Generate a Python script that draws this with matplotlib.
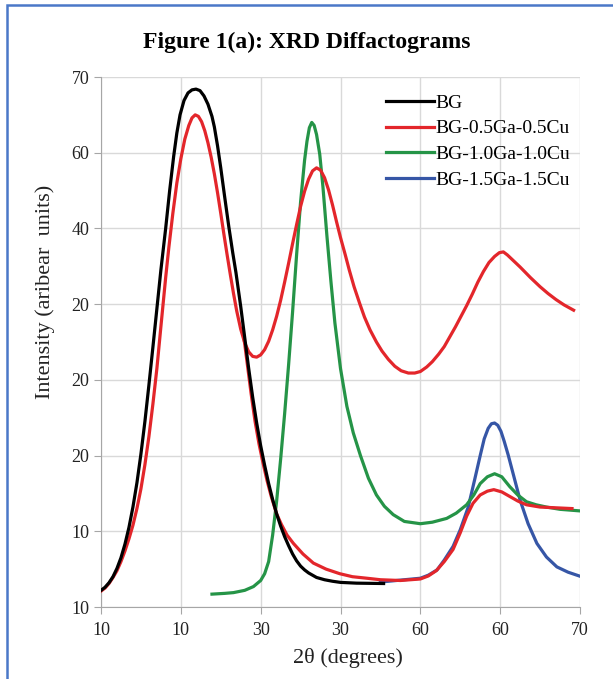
import numpy as np
import matplotlib
matplotlib.use("Agg")
import matplotlib.pyplot as plt
from matplotlib.patches import Rectangle

# values (x = 2theta in degrees, y = intensity)
bg_x = [10, 10.5, 11, 11.5, 12, 12.5, 13, 13.5, 14, 14.5, 15, 15.5, 16, 16.5, 17, 17.5,
        18.1, 18.6, 19.1, 19.5, 19.9, 20.4, 20.9, 21.4, 21.9, 22.4, 22.9, 23.4, 23.9, 24.2,
        24.6, 25.0, 25.5, 26.0, 26.5, 26.9, 27.5, 28.0, 28.5, 29.0, 29.5, 30.0, 30.5, 31.0,
        31.5, 32.0, 32.5, 33.0, 33.5, 34.0, 34.5, 35.0, 35.5, 36.0, 36.5, 37.0, 38.0, 39.0,
        40.0, 42.0, 45.4]
bg_y = [2.2, 2.6, 3.2, 4.0, 5.1, 6.5, 8.3, 10.5, 13.2, 16.4, 20.2, 24.5, 29.3, 34.3, 39.4, 44.5,
        50.0, 55.0, 59.5, 62.6, 65.0, 66.9, 67.9, 68.3, 68.4, 68.2, 67.5, 66.4, 64.8, 63.4,
        60.9, 58.0, 54.1, 50.3, 46.8, 44.2, 39.7, 35.6, 31.5, 27.7, 24.3, 21.3, 18.7, 16.3,
        14.2, 12.3, 10.7, 9.3, 8.1, 7.0, 6.1, 5.4, 4.9, 4.5, 4.2, 3.9, 3.6, 3.4,
        3.25, 3.15, 3.1]

red_x = [10, 10.5, 11, 11.5, 12, 12.5, 13, 13.5, 14, 14.5, 15, 15.5, 16, 16.5, 17, 17.5,
         18.1, 18.5, 19.0, 19.5, 20.0, 20.5, 21.0, 21.4, 21.8, 22.2, 22.6, 23.0, 23.4, 23.8,
         24.2, 24.6, 25.0, 25.4, 25.8, 26.2, 26.6, 27.0, 27.5, 28.0, 28.5, 29.0, 29.5, 30.0,
         30.5, 31.0, 31.5, 32.0, 32.5, 33.0, 33.5, 34.0, 34.5, 35.0, 35.5, 36.0, 36.5, 37.0,
         37.5, 38.0, 38.5, 39.0, 39.5, 40.0, 40.6, 41.1, 41.7, 42.4, 43.0, 43.7, 44.5, 45.2,
         46.0, 46.8, 47.6, 48.5, 49.3, 50.0, 50.8, 51.5, 52.3, 53.0, 53.7, 54.4, 55.1, 55.8,
         56.5, 57.2, 57.9, 58.6, 59.3, 59.9, 60.4, 60.9, 61.5, 62.5, 63.8, 65.0, 66.0, 67.0,
         68.0, 69.2]
red_y = [2.1, 2.5, 3.1, 3.9, 4.8, 6.0, 7.4, 9.0, 10.8, 13.0, 15.6, 18.8, 22.5, 26.8, 31.5, 37.0,
         43.5, 47.5, 52.0, 56.0, 59.2, 61.8, 63.6, 64.6, 65.0, 64.8, 64.1, 62.9, 61.3, 59.4,
         57.2, 54.7, 52.0, 49.2, 46.5, 43.9, 41.4, 39.1, 36.7, 34.9, 33.7, 33.1, 33.0, 33.3,
         34.0, 35.1, 36.6, 38.4, 40.5, 42.9, 45.4, 48.0, 50.5, 52.9, 54.9, 56.5, 57.6, 58.0,
         57.7, 56.7, 55.1, 53.1, 50.9, 48.8, 46.5, 44.5, 42.3, 40.1, 38.3, 36.6, 35.0, 33.8,
         32.7, 31.8, 31.2, 30.9, 30.9, 31.1, 31.7, 32.4, 33.4, 34.4, 35.7, 37.0, 38.4, 39.8,
         41.3, 42.9, 44.3, 45.5, 46.3, 46.8, 46.9, 46.5, 45.9, 44.9, 43.5, 42.3, 41.4, 40.6,
         39.9, 39.2]

# second red trace (lower branch, follows BG then small peak near 59)
red2_x = [27.8, 28.3, 28.8, 29.3, 29.8, 30.3, 30.8, 31.3, 32.0, 32.6, 33.3, 34.1, 35.3, 36.6,
          38.2, 39.9, 41.5, 43.3, 45.0, 47.5, 50.0, 51.0, 52.0, 53.0, 54.1, 55.0, 55.8, 56.6,
          57.5, 58.4, 59.2, 60.2, 61.2, 62.2, 63.3, 65.0, 67.0, 69.0]
red2_y = [36.4, 32.3, 28.2, 24.5, 21.5, 19.0, 16.7, 14.7, 12.3, 10.9, 9.5, 8.4, 7.0, 5.8,
          5.0, 4.4, 4.0, 3.8, 3.6, 3.5, 3.7, 4.1, 4.8, 6.0, 7.6, 9.8, 12.0, 13.7,
          14.8, 15.3, 15.5, 15.2, 14.6, 14.0, 13.5, 13.2, 13.1, 13.0]

green_x = [23.9, 25.5, 26.6, 28.0, 29.1, 30.0, 30.5, 31.0, 31.5, 32.0, 32.5, 33.0, 33.5, 34.0,
           34.5, 35.0, 35.5, 35.8, 36.1, 36.4, 36.7, 37.0, 37.4, 37.8, 38.3, 38.8, 39.3, 40.0,
           40.8, 41.6, 42.5, 43.5, 44.5, 45.5, 46.6, 48.0, 50.0, 51.5, 53.3, 54.5, 55.8, 56.7,
           57.5, 58.4, 59.3, 60.2, 61.2, 62.2, 63.3, 64.5, 65.8, 67.5, 69.9]
green_y = [1.7, 1.8, 1.9, 2.2, 2.7, 3.5, 4.4, 6.0, 9.5, 14.0, 19.5, 25.5, 32.0, 39.0,
           46.5, 53.5, 59.0, 61.5, 63.3, 64.0, 63.6, 62.4, 59.8, 55.5, 49.0, 43.0, 37.5, 31.5,
           26.5, 23.0, 20.0, 17.0, 14.8, 13.3, 12.2, 11.3, 11.0, 11.2, 11.7, 12.4, 13.5, 14.8,
           16.3, 17.2, 17.6, 17.2, 15.9, 14.8, 13.9, 13.5, 13.2, 12.9, 12.7]

blue_x = [45.0, 47.0, 50.0, 51.0, 52.1, 53.0, 54.1, 55.0, 56.0, 56.8, 57.5, 58.0, 58.5, 58.9,
          59.3, 59.7, 60.1, 60.5, 61.0, 61.7, 62.5, 63.5, 64.6, 65.8, 67.1, 68.5, 69.9]
blue_y = [3.3, 3.5, 3.8, 4.2, 4.9, 6.2, 8.0, 10.2, 13.2, 16.8, 20.0, 22.2, 23.6, 24.2,
          24.3, 24.0, 23.2, 21.9, 20.1, 17.3, 14.1, 11.0, 8.4, 6.6, 5.3, 4.6, 4.1]

x_ticks = [10, 20, 30, 40, 50, 60, 70]
x_labels = ['10', '10', '30', '30', '60', '60', '70']
y_ticks = [0, 10, 20, 30, 40, 50, 60, 70]
y_labels = ['10', '10', '20', '20', '20', '40', '60', '70']

plt.rcParams['font.family'] = ['Liberation Serif', 'DejaVu Serif']

fig = plt.figure(figsize=(6.13, 6.79), dpi=100)
ax = fig.add_axes([101 / 613, 1 - 607 / 679, 479 / 613, 530 / 679])

ax.plot(bg_x, bg_y, color='black', lw=2.3, label='BG', zorder=5)
ax.plot(red_x, red_y, color='#E3262B', lw=2.3, label='BG-0.5Ga-0.5Cu', zorder=4)
ax.plot(red2_x, red2_y, color='#E3262B', lw=2.3, zorder=4)
ax.plot(green_x, green_y, color='#259447', lw=2.3, label='BG-1.0Ga-1.0Cu', zorder=3)
ax.plot(blue_x, blue_y, color='#3656A6', lw=2.3, label='BG-1.5Ga-1.5Cu', zorder=2)

ax.set_xlim(10, 70)
ax.set_ylim(0, 70)
ax.set_xticks(x_ticks)
ax.set_xticklabels(x_labels)
ax.set_yticks(y_ticks)
ax.set_yticklabels(y_labels)
ax.grid(True, color='#d9d9d9', lw=1)
ax.set_axisbelow(True)
for s in ['top', 'right']:
    ax.spines[s].set_visible(False)
for s in ['left', 'bottom']:
    ax.spines[s].set_color('#a6a6a6')
ax.tick_params(colors='#a6a6a6', labelcolor='#222222', labelsize=13, length=5, direction='out')
ax.tick_params(axis='x', pad=6)

ax.set_xlabel('2θ (degrees)', fontsize=16, color='#222222')
ax.xaxis.set_label_coords(0.516, -0.078)
ax.set_ylabel('Intensity (aribear  units)', fontsize=16, color='#222222')
ax.yaxis.set_label_coords(-0.096, 0.594)
fig.text(0.5, 1 - 42 / 679, 'Figure 1(a): XRD Diffactograms', ha='center', va='center',
         fontsize=17, fontweight='bold')

leg = ax.legend(loc='upper left', bbox_to_anchor=(0.594, 0.968), frameon=False, fontsize=14,
                handlelength=2.5, handletextpad=0.05, labelspacing=0.42, borderaxespad=0,
                borderpad=0)

# blue frame around the figure
fig.patches.append(Rectangle((7 / 613, -0.02), 1.1, 1 - 5 / 679 + 0.02, transform=fig.transFigure,
                             fill=False, edgecolor='#4A78C8', lw=1.8))

fig.savefig('out.png', dpi=100)
